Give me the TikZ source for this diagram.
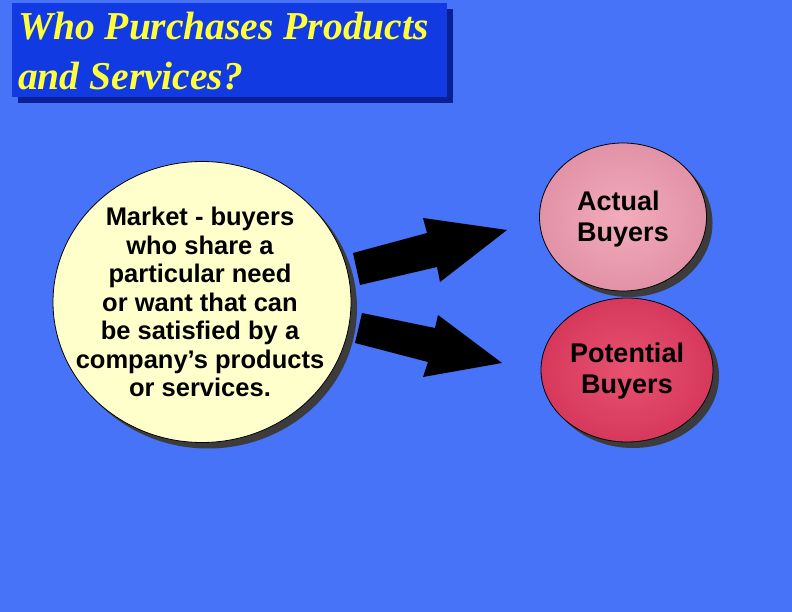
\documentclass[tikz,border=0pt]{standalone}
\usepackage{fontspec}
\setmainfont{Liberation Serif}
\newfontfamily\arialf{Liberation Sans}
\usetikzlibrary{shapes.geometric,shadows}
\definecolor{bgblue}{RGB}{70,115,248}
\definecolor{titleblue}{RGB}{18,58,226}
\definecolor{titleshadow}{RGB}{12,32,150}
\definecolor{titleyellow}{RGB}{255,255,60}
\definecolor{cream}{RGB}{255,255,204}
\definecolor{pinkin}{RGB}{242,172,188}
\definecolor{pinkout}{RGB}{226,146,166}
\definecolor{redin}{RGB}{232,82,112}
\definecolor{redout}{RGB}{214,56,92}
\definecolor{shadowgray}{RGB}{60,60,60}
\tikzset{
  oval/.style={ellipse, draw=black, line width=0.8pt, inner sep=0pt,
    drop shadow={shadow xshift=6pt, shadow yshift=-6pt, fill=shadowgray, opacity=1}},
  bodytext/.style={font=\arialf\bfseries\fontsize{25.5}{28.5}\selectfont, text=black},
  buyertext/.style={font=\arialf\bfseries\fontsize{27}{31}\selectfont, text=black},
  bigarrow/.style={fill=black},
}
\begin{document}
\begin{tikzpicture}[x=1pt,y=-1pt]
\useasboundingbox (0,0) rectangle (792,612);
\fill[bgblue] (0,0) rectangle (792,612);
% title
\fill[titleshadow] (18,9) rectangle (453,103);
\node[fill=titleblue, minimum width=435pt, minimum height=94pt, anchor=north west, inner sep=0pt] (titlebox) at (12,3) {};
\node[anchor=north west, align=left, text=titleyellow, inner sep=0pt,
  font=\bfseries\itshape\fontsize{39.5}{50}\selectfont] (title) at (18,12)
  {Who Purchases Products\\and Services?};
% market circle
\node[oval, fill=cream, minimum width=298pt, minimum height=281pt] (mkt) at (202,302) {};
\node[bodytext, align=center] (mkttext) at (200,302)
  {Market - buyers\\who share a\\particular need\\ or want that can\\be satisfied by a\\company’s products\\or services.};
% actual buyers
\node[oval, shading=radial, inner color=pinkin, outer color=pinkout, minimum width=167pt, minimum height=148pt] (actual) at (623,217) {};
\node[buyertext, align=left] (actualtext) at (623,219) {Actual\\Buyers};
% potential buyers
\node[oval, shading=radial, inner color=redin, outer color=redout, minimum width=172pt, minimum height=144pt] (potential) at (627,370) {};
\node[buyertext, align=center] (potentialtext) at (627,371) {Potential\\Buyers};
% arrows
\fill[bigarrow] (353,253) -- (427,233) -- (423,218) -- (507,230) -- (440,282) -- (437,267) -- (360,285) -- cycle;
\fill[bigarrow] (362,313) -- (435,328) -- (438,315) -- (502,363) -- (423,377) -- (428,362) -- (355,343) -- cycle;
\end{tikzpicture}
\end{document}
